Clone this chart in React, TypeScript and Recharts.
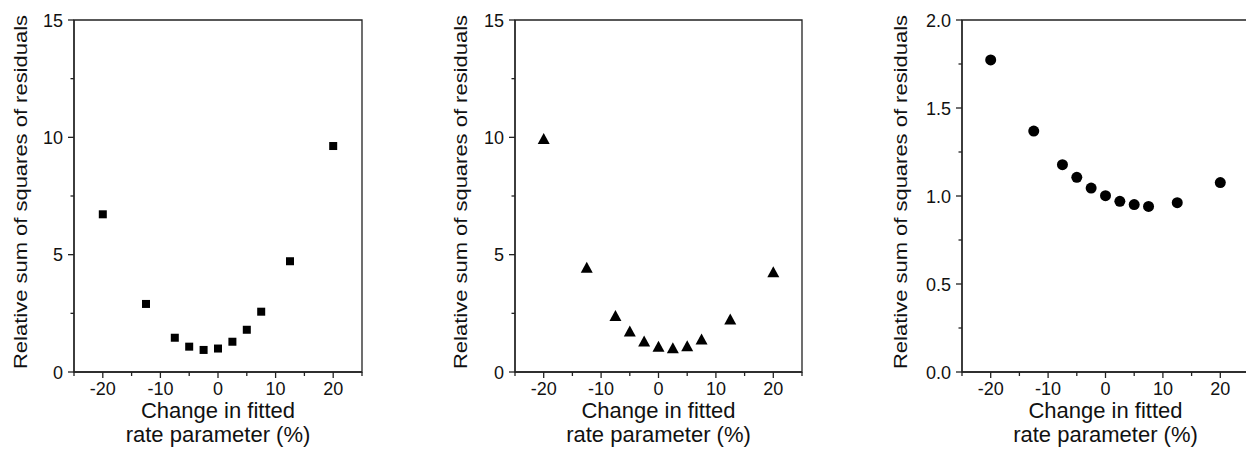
import React from "react";
import { ScatterChart, Scatter, XAxis, YAxis, ReferenceArea } from "recharts";

// change in the fitted rate parameter, %
const changePct = [-20, -12.5, -7.5, -5, -2.5, 0, 2.5, 5, 7.5, 12.5, 20];

// relative sum of squares of residuals, one list per panel
const rssSquares = [6.72, 2.9, 1.46, 1.08, 0.94, 1.0, 1.29, 1.8, 2.57, 4.72, 9.63];
const rssTriangles = [9.91, 4.42, 2.36, 1.7, 1.28, 1.05, 0.99, 1.08, 1.36, 2.22, 4.23];
const rssCircles = [1.773, 1.369, 1.178, 1.106, 1.045, 1.002, 0.97, 0.951, 0.941, 0.962, 1.076];

const xTicks = [-25, -20, -15, -10, -5, 0, 5, 10, 15, 20, 25];
const xLabelled = [-20, -10, 0, 10, 20];
const yTicksWide = [0, 2.5, 5, 7.5, 10, 12.5, 15];
const yTicksNarrow = [0, 0.25, 0.5, 0.75, 1, 1.25, 1.5, 1.75, 2];

const AXIS = "#222";
const INK = "#111";
const FONT = "'Liberation Sans', Arial, sans-serif";
const Y_AXIS_W = 90;

const Square = (p: any) => <rect x={p.cx - 4} y={p.cy - 4} width={8} height={8} fill="#000" />;
const Triangle = (p: any) => (
  <polygon points={`${p.cx},${p.cy - 6.5} ${p.cx - 6},${p.cy + 4.5} ${p.cx + 6},${p.cy + 4.5}`} fill="#000" />
);
const Dot = (p: any) => <circle cx={p.cx} cy={p.cy} r={5.5} fill="#000" />;

const XTick = (p: any) => {
  const v = p.payload.value;
  const major = v % 10 === 0;
  return (
    <g>
      <line x1={p.x} x2={p.x} y1={p.y} y2={p.y + (major ? 6 : 4)} stroke={AXIS} strokeWidth={1.3} />
      {xLabelled.includes(v) && (
        <text x={p.x} y={p.y + 22.5} textAnchor="middle" fontSize={18} fill={INK} fontFamily={FONT}>
          {v}
        </text>
      )}
    </g>
  );
};

const makeYTick = (step: number, digits: number) => (p: any) => {
  const v = p.payload.value;
  const major = Math.abs(v / step - Math.round(v / step)) < 1e-9;
  return (
    <g>
      <line x1={p.x} x2={p.x - (major ? 6 : 3.5)} y1={p.y} y2={p.y} stroke={AXIS} strokeWidth={1.3} />
      {major && (
        <text x={p.x - 11} y={p.y + 6.5} textAnchor="end" fontSize={18} fill={INK} fontFamily={FONT}>
          {v.toFixed(digits)}
        </text>
      )}
    </g>
  );
};

const XTitle = (p: any) => {
  const vb = p.viewBox;
  const cx = vb.x + vb.width / 2;
  return (
    <text textAnchor="middle" fontSize={22} fill={INK} fontFamily={FONT}>
      <tspan x={cx} y={vb.y + 46}>Change in fitted</tspan>
      <tspan x={cx} y={vb.y + 70}>rate parameter (%)</tspan>
    </text>
  );
};

const makeYTitle = (offset: number) => (p: any) => {
  const vb = p.viewBox;
  const bx = vb.x + vb.width - offset;
  const cy = vb.y + vb.height / 2 - 4;
  return (
    <text
      transform={`translate(${bx},${cy}) rotate(-90)`}
      textAnchor="middle"
      fontSize={19}
      textLength={354}
      lengthAdjust="spacingAndGlyphs"
      fill={INK}
      fontFamily={FONT}
    >
      Relative sum of squares of residuals
    </text>
  );
};

type PanelProps = {
  plotLeft: number;
  plotWidth: number;
  values: number[];
  yMax: number;
  yTicks: number[];
  yStep: number;
  yDigits: number;
  titleOffset: number;
  shape: (p: any) => React.ReactElement;
};

function Panel({ plotLeft, plotWidth, values, yMax, yTicks, yStep, yDigits, titleOffset, shape }: PanelProps) {
  const data = changePct.map((x, i) => ({ x, y: values[i] }));
  return (
    <div style={{ position: "absolute", left: plotLeft - Y_AXIS_W, top: 0 }}>
      <ScatterChart width={plotWidth + Y_AXIS_W + 20} height={450} margin={{ top: 20, right: 20, bottom: 18, left: 0 }}>
        <XAxis
          type="number"
          dataKey="x"
          domain={[-25, 25]}
          ticks={xTicks}
          interval={0}
          height={60}
          tickSize={0}
          tickMargin={0}
          tickLine={false}
          tick={<XTick />}
          axisLine={{ stroke: AXIS, strokeWidth: 1.3 }}
          label={{ content: <XTitle /> }}
        />
        <YAxis
          type="number"
          dataKey="y"
          domain={[0, yMax]}
          ticks={yTicks}
          interval={0}
          width={Y_AXIS_W}
          tickSize={0}
          tickMargin={0}
          tickLine={false}
          tick={makeYTick(yStep, yDigits)}
          axisLine={{ stroke: AXIS, strokeWidth: 1.3 }}
          label={{ content: makeYTitle(titleOffset) }}
        />
        <ReferenceArea
          x1={-25}
          x2={25}
          y1={0}
          y2={yMax}
          fill="none"
          stroke={AXIS}
          strokeWidth={1.3}
          ifOverflow="visible"
        />
        <Scatter data={data} shape={shape} isAnimationActive={false} />
      </ScatterChart>
    </div>
  );
}

export default function App() {
  return (
    <div
      style={{
        position: "fixed",
        left: 0,
        top: 0,
        width: 1246,
        height: 450,
        overflow: "hidden",
        background: "#fff",
        fontFamily: FONT,
      }}
    >
      <style>{"body{margin:0;overflow:hidden}"}</style>
      <Panel
        plotLeft={74}
        plotWidth={288}
        values={rssSquares}
        yMax={15}
        yTicks={yTicksWide}
        yStep={5}
        yDigits={0}
        titleOffset={47}
        shape={Square}
      />
      <Panel
        plotLeft={515}
        plotWidth={287}
        values={rssTriangles}
        yMax={15}
        yTicks={yTicksWide}
        yStep={5}
        yDigits={0}
        titleOffset={48}
        shape={Triangle}
      />
      <Panel
        plotLeft={962}
        plotWidth={287}
        values={rssCircles}
        yMax={2}
        yTicks={yTicksNarrow}
        yStep={0.5}
        yDigits={1}
        titleOffset={55}
        shape={Dot}
      />
    </div>
  );
}
